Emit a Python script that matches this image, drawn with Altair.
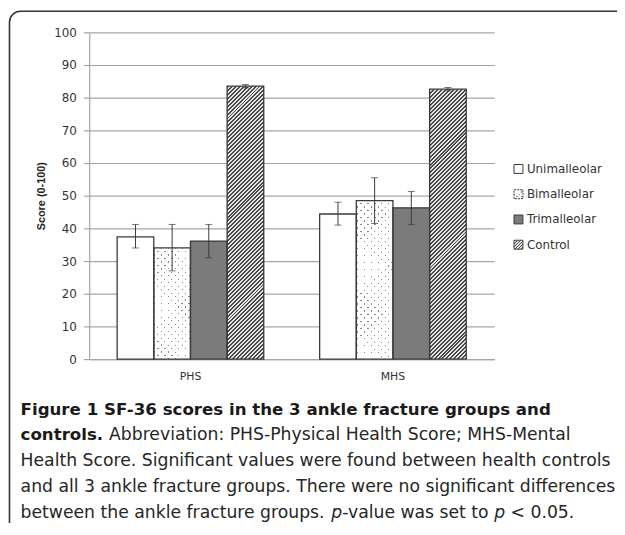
import altair as alt
import pandas as pd

# ---------------- data ----------------
measures = ["PHS", "MHS"]
groups = ["Unimalleolar", "Bimalleolar", "Trimalleolar", "Control"]
phs_mean = [37.4, 34.0, 36.1, 83.5]
phs_lo = [34.0, 27.0, 31.0, 83.0]
phs_hi = [41.2, 41.2, 41.2, 84.0]
mhs_mean = [44.4, 48.5, 46.3, 82.6]
mhs_lo = [41.0, 41.5, 41.2, 82.1]
mhs_hi = [48.0, 55.5, 51.3, 83.1]

y_ticks = list(range(0, 101, 10))
y_title = "Score (0-100)"

cap_title = ["Figure 1 SF-36 scores in the 3 ankle fracture groups and"]
cap_bold2 = ["controls."]
cap_line2 = ["Abbreviation: PHS-Physical Health Score; MHS-Mental"]
cap_line3 = ["Health Score. Significant values were found between health controls"]
cap_line4 = ["and all 3 ankle fracture groups. There were no significant differences"]
cap_line5 = ["between the ankle fracture groups.", "p", "-value was set to", "p", "< 0.05."]

# ---------------- layout / style ----------------
W, H = 409, 330
PAD = {"left": 82, "top": 22, "right": 124, "bottom": 163}
GRID = "#a6a6a6"
EDGE = "#3a3a3a"
TXT = "#333333"
FONT = "DejaVu Sans"
CAPFONT = "DejaVu Sans"
BODY = 17.4
TITLE = 16.8

rows = []
for m, means, los, his in [("PHS", phs_mean, phs_lo, phs_hi), ("MHS", mhs_mean, mhs_lo, mhs_hi)]:
    for g, v, lo, hi in zip(groups, means, los, his):
        rows.append({"Measure": m, "Group": g, "Score": v, "Lo": lo, "Hi": hi})
df = pd.DataFrame(rows)

x_enc = alt.X("Measure:N", sort=measures,
              scale=alt.Scale(domain=measures, paddingInner=0.276, paddingOuter=0.138),
              axis=alt.Axis(title=None, labelAngle=0, ticks=False, domainColor=GRID,
                            domainWidth=1.2, labelFont=FONT, labelFontSize=11,
                            labelColor=TXT, labelPadding=12, grid=False))
xo_enc = alt.XOffset("Group:N", sort=groups,
                     scale=alt.Scale(domain=groups, paddingInner=0, paddingOuter=0))


def y_enc(field):
    return alt.Y(f"{field}:Q", scale=alt.Scale(domain=[0, 100], nice=False),
                 axis=alt.Axis(values=y_ticks, title=y_title, grid=True, gridColor=GRID,
                               gridWidth=1.2, domainColor=GRID, domainWidth=1.2,
                               tickColor=GRID, tickSize=6, tickWidth=1.2,
                               labelFont=FONT, labelFontSize=12, labelColor=TXT,
                               labelPadding=7, titleFont="Liberation Sans",
                               titleFontSize=11, titleFontWeight="bold",
                               titleColor="#222222", titlePadding=7))


base = alt.Chart(df).encode(x=x_enc, xOffset=xo_enc, y=y_enc("Score"))

step = W / 2.0
bw = step * (1 - 0.276) / 4.0


def stripes(length, period, c_on, c_off, frac, x1, y1, x2, y2):
    stops = []
    t = 0.0
    while t < length - 1e-9:
        a = round(t / length, 5)
        b = round(min(1.0, (t + frac * period) / length), 5)
        c = round(min(1.0, (t + period) / length), 5)
        stops += [{"offset": a, "color": c_on}, {"offset": b, "color": c_on},
                  {"offset": b, "color": c_off}, {"offset": c, "color": c_off}]
        t += period
    return {"gradient": "linear", "x1": x1, "y1": y1, "x2": x2, "y2": y2, "stops": stops}


def diag_up(w, h, period, c_on, c_off, frac):
    k = (w + h) / (w * w + h * h)
    return stripes(w + h, period, c_on, c_off, frac, 0, 0, round(k * w, 6), round(k * h, 6))


def diag_down(w, h, period, c_on, c_off, frac):
    k = (w + h) / (w * w + h * h)
    return stripes(w + h, period, c_on, c_off, frac, 0, 1, round(k * w, 6), round(1 - k * h, 6))


def sel(g, m=None):
    if m is None:
        return alt.datum.Group == g
    return (alt.datum.Group == g) & (alt.datum.Measure == m)


layers = []
layers.append(base.transform_filter(sel("Unimalleolar")).mark_bar(fill="white", strokeWidth=0))
layers.append(base.transform_filter(sel("Trimalleolar")).mark_bar(fill="#7b7b7b", strokeWidth=0))

DOT_P = 7.0
HATCH_P = 4.0
for m, means in [("PHS", phs_mean), ("MHS", mhs_mean)]:
    hb = means[1] / 100.0 * H
    layers.append(base.transform_filter(sel("Bimalleolar", m)).mark_bar(
        fill=diag_up(bw, hb, DOT_P, "#8a8a8a", "#ffffff", 0.22), strokeWidth=0))
    layers.append(base.transform_filter(sel("Bimalleolar", m)).mark_bar(
        fill=diag_down(bw, hb, DOT_P, "rgba(255,255,255,0)", "#ffffff", 0.22), strokeWidth=0))
    hc = means[3] / 100.0 * H
    layers.append(base.transform_filter(sel("Control", m)).mark_bar(
        fill=diag_up(bw, hc, HATCH_P, "#484848", "#e6e6e6", 0.5), strokeWidth=0))

layers.append(base.mark_bar(fill="transparent", stroke=EDGE, strokeWidth=1.3))

err = alt.Chart(df).encode(x=x_enc, xOffset=xo_enc)
layers.append(err.mark_rule(color=EDGE, strokeWidth=1).encode(y=y_enc("Lo"), y2="Hi:Q"))
layers.append(err.mark_tick(color=EDGE, thickness=1, size=7).encode(y=y_enc("Lo")))
layers.append(err.mark_tick(color=EDGE, thickness=1, size=7).encode(y=y_enc("Hi")))

# ---------------- legend ----------------
LX, LS, LY0, LDY = 429, 9, 138, 25.5
for i, g in enumerate(groups):
    cy = LY0 + i * LDY
    one = alt.Chart(pd.DataFrame({"Group": [g]}))
    pos = dict(x=alt.value(LX), x2=alt.value(LX + LS), y=alt.value(cy - LS / 2), y2=alt.value(cy + LS / 2))
    if g == "Unimalleolar":
        layers.append(one.mark_rect(fill="white", stroke=EDGE, strokeWidth=1).encode(**pos))
    elif g == "Bimalleolar":
        layers.append(one.mark_rect(fill=diag_up(LS, LS, 4.5, "#8a8a8a", "#ffffff", 0.3), strokeWidth=0).encode(**pos))
        layers.append(one.mark_rect(fill=diag_down(LS, LS, 4.5, "rgba(255,255,255,0)", "#ffffff", 0.3), stroke=EDGE, strokeWidth=1, strokeDash=[2, 1]).encode(**pos))
    elif g == "Trimalleolar":
        layers.append(one.mark_rect(fill="#7b7b7b", stroke=EDGE, strokeWidth=1).encode(**pos))
    else:
        layers.append(one.mark_rect(fill=diag_up(LS, LS, 3.0, "#484848", "#e6e6e6", 0.5), stroke=EDGE, strokeWidth=1).encode(**pos))
    layers.append(one.mark_text(align="left", baseline="middle", font=FONT, fontSize=12, color=TXT).encode(
        x=alt.value(LX + LS + 4), y=alt.value(cy), text="Group:N"))

# ---------------- caption ----------------
CX = -69.3


def cap(texts, x, y, bold=False, italic=False, size=BODY):
    d = pd.DataFrame({"t": texts})
    kw = dict(align="left", baseline="middle", font=CAPFONT, fontSize=size, color="#262626")
    if bold:
        kw["fontWeight"] = "bold"
        kw["color"] = "#1a1a1a"
    if italic:
        kw["fontStyle"] = "italic"
    return alt.Chart(d).mark_text(**kw).encode(x=alt.value(x), y=alt.value(y), text="t:N")


layers.append(cap(cap_title, CX, 381, bold=True, size=TITLE))
layers.append(cap(cap_bold2, CX, 407, bold=True, size=TITLE))
layers.append(cap(cap_line2, 20, 407))
layers.append(cap(cap_line3, CX, 433))
layers.append(cap(cap_line4, CX, 459))
layers.append(cap(cap_line5[0:1], CX, 485))
layers.append(cap(cap_line5[1:2], 244.5, 485, italic=True))
layers.append(cap(cap_line5[2:3], 255.5, 485))
layers.append(cap(cap_line5[3:4], 409, 485, italic=True))
layers.append(cap(cap_line5[4:5], 425.5, 485))

# ---------------- frame ----------------
layers.append(alt.Chart(pd.DataFrame({"a": [0]})).mark_rect(
    fill="transparent", stroke="#333333", strokeWidth=1.6, cornerRadius=11).encode(
    x=alt.value(-80.5), x2=alt.value(800), y=alt.value(-21.2), y2=alt.value(900)))

chart = alt.layer(*layers).properties(
    width=W, height=H, padding=PAD, autosize=alt.AutoSizeParams(type="none"),
    background="white"
).configure_view(strokeWidth=0)

chart.save("out.html", embed_options={"renderer": "svg", "actions": False})
